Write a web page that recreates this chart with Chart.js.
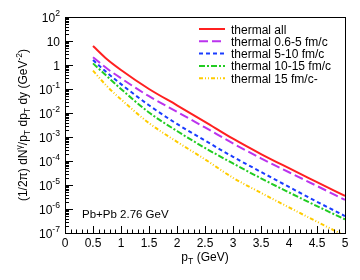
<!DOCTYPE html>
<html>
<head>
<meta charset="utf-8">
<script src="https://cdn.jsdelivr.net/npm/chart.js@4.4.1/dist/chart.umd.min.js"></script>
<style>
  html, body { margin: 0; padding: 0; background: #fff; }
  #wrap { width: 360px; height: 280px; }
</style>
</head>
<body>
<div id="wrap"><canvas id="c" width="360" height="280"></canvas></div>
<script>
// pT points (GeV)
const pt = [0.5, 0.75, 1.0, 1.5, 2.0, 2.5, 3.0, 3.5, 4.0, 4.5, 5.0];

// spectra (GeV^-2)
const thermalAll = [6.2, 1.74, 0.62, 0.10, 0.021, 4.3e-3, 8.5e-4, 1.95e-4, 5.0e-5, 1.32e-5, 3.5e-6];
const thermal06to5 = [2.1, 0.71, 0.28, 0.050, 0.0112, 2.5e-3, 5.4e-4, 1.29e-4, 3.4e-5, 9.1e-6, 2.4e-6];
const thermal5to10 = [1.62, 0.48, 0.16, 0.021, 3.5e-3, 7.1e-4, 1.5e-4, 3.5e-5, 8.3e-6, 2.0e-6, 5.1e-7];
const thermal10to15 = [1.17, 0.34, 0.10, 0.0105, 1.78e-3, 3.5e-4, 7.9e-5, 1.9e-5, 4.9e-6, 1.32e-6, 3.7e-7];
const thermal15up = [0.58, 0.13, 0.037, 3.8e-3, 6.3e-4, 1.17e-4, 2.0e-5, 4.7e-6, 1.17e-6, 2.95e-7, 7.6e-8];

const seriesLabels = ['thermal all', 'thermal 0.6-5 fm/c', 'thermal 5-10 fm/c', 'thermal 10-15 fm/c', 'thermal 15 fm/c-'];

// tick labels
const xTicks = [0, 0.5, 1, 1.5, 2, 2.5, 3, 3.5, 4, 4.5, 5];
const xTickLabels = ['0', '0.5', '1', '1.5', '2', '2.5', '3', '3.5', '4', '4.5', '5'];
const yDecades = [-7, -6, -5, -4, -3, -2, -1, 0, 1, 2];

const FONT = '"Liberation Sans", Arial, Helvetica, sans-serif';

function pts(ys) {
    return pt.map((x, i) => ({ x: x, y: ys[i] }));
}

function makeSet(label, ys, color, dash) {
    return {
        label: label,
        data: pts(ys),
        borderColor: color,
        backgroundColor: color,
        borderWidth: 2,
        borderDash: dash,
        pointRadius: 0,
        fill: false,
        cubicInterpolationMode: 'monotone',
    };
}

// draw a run of text pieces; each piece: [text, shift] where shift 0 normal, 1 sup, -1 sub
function richWidth(ctx, parts, size) {
    let w = 0;
    parts.forEach(p => {
        ctx.font = (p[1] === 0 ? size : size * 0.72) + 'px ' + FONT;
        w += ctx.measureText(p[0]).width;
    });
    return w;
}
function drawRich(ctx, parts, x, y, size) {
    let cx = x;
    parts.forEach(p => {
        const s = p[1] === 0 ? size : size * 0.72;
        ctx.font = s + 'px ' + FONT;
        const dy = p[1] === 1 ? -size * 0.42 : (p[1] === -1 ? size * 0.28 : 0);
        ctx.fillText(p[0], cx, y + dy);
        cx += ctx.measureText(p[0]).width;
    });
}

const rootAxes = {
    id: 'rootAxes',
    afterDraw(chart) {
        const ctx = chart.ctx;
        const a = chart.chartArea;
        const xs = chart.scales.x;
        const ys = chart.scales.y;
        ctx.save();
        ctx.fillStyle = '#000';
        ctx.strokeStyle = '#000';
        ctx.lineWidth = 1;

        // frame
        ctx.strokeRect(Math.round(a.left) + 0.5, Math.round(a.top) + 0.5,
            Math.round(a.right - a.left), Math.round(a.bottom - a.top));

        // x ticks (inward)
        ctx.beginPath();
        for (let i = 0; i <= 50; i++) {
            const v = i / 10;
            const px = Math.round(xs.getPixelForValue(v)) + 0.5;
            const len = (i % 5 === 0) ? 7 : 3.5;
            ctx.moveTo(px, a.bottom);
            ctx.lineTo(px, a.bottom - len);
        }
        // y ticks (inward)
        yDecades.forEach(d => {
            const py = Math.round(ys.getPixelForValue(Math.pow(10, d))) + 0.5;
            ctx.moveTo(a.left, py);
            ctx.lineTo(a.left + 8, py);
            if (d < 2) {
                for (let k = 2; k <= 9; k++) {
                    const q = Math.round(ys.getPixelForValue(k * Math.pow(10, d))) + 0.5;
                    ctx.moveTo(a.left, q);
                    ctx.lineTo(a.left + 4, q);
                }
            }
        });
        ctx.stroke();

        // x tick labels
        ctx.font = '12px ' + FONT;
        ctx.textAlign = 'center';
        ctx.textBaseline = 'alphabetic';
        xTicks.forEach((v, i) => {
            ctx.fillText(xTickLabels[i], xs.getPixelForValue(v), a.bottom + 14);
        });

        // y tick labels, 10^n
        ctx.textAlign = 'left';
        yDecades.forEach(d => {
            const py = ys.getPixelForValue(Math.pow(10, d)) + 4.5;
            let parts;
            if (d === 0) parts = [['1', 0]];
            else if (d === 1) parts = [['10', 0]];
            else parts = [['10', 0], [String(d), 1]];
            const w = richWidth(ctx, parts, 12);
            drawRich(ctx, parts, a.left - 5 - w, py, 12);
        });

        // x title
        const xt = [['p', 0], ['T', -1], [' (GeV)', 0]];
        const xw = richWidth(ctx, xt, 12);
        drawRich(ctx, xt, (a.left + a.right) / 2 - xw / 2, a.bottom + 28, 12);

        // y title (rotated)
        const yt = [['(1/2\u03c0) dN', 0], ['\u03b3', 1], ['/p', 0], ['T', -1], [' dp', 0], ['T', -1],
            [' dy (GeV', 0], ['-2', 1], [')', 0]];
        const yw = richWidth(ctx, yt, 12);
        ctx.save();
        ctx.translate(27, (a.top + a.bottom) / 2);
        ctx.rotate(-Math.PI / 2);
        drawRich(ctx, yt, -yw / 2, 0, 12);
        ctx.restore();

        // system label
        ctx.font = '11.5px ' + FONT;
        ctx.fillText('Pb+Pb 2.76 GeV', 82, 218);

        // legend
        const lx0 = 199, lx1 = 225, ly0 = 29, step = 12.3;
        chart.data.datasets.forEach((ds, i) => {
            const y = ly0 + i * step;
            ctx.save();
            ctx.strokeStyle = ds.borderColor;
            ctx.lineWidth = 2;
            ctx.setLineDash(ds.borderDash || []);
            ctx.beginPath();
            ctx.moveTo(lx0, y);
            ctx.lineTo(lx1, y);
            ctx.stroke();
            ctx.restore();
            ctx.font = '12px ' + FONT;
            ctx.fillText(ds.label, 231, y + 4.5);
        });
        ctx.restore();
    }
};

new Chart(document.getElementById('c').getContext('2d'), {
    type: 'line',
    data: {
        datasets: [
            makeSet(seriesLabels[0], thermalAll, '#ff2020', []),
            makeSet(seriesLabels[1], thermal06to5, '#bb33ee', [9, 4]),
            makeSet(seriesLabels[2], thermal5to10, '#1a3cff', [4, 3]),
            makeSet(seriesLabels[3], thermal10to15, '#22cc22', [6, 2, 2, 2]),
            makeSet(seriesLabels[4], thermal15up, '#ffcc00', [4, 2, 1, 2, 1, 2]),
        ],
    },
    options: {
        responsive: false,
        animation: false,
        devicePixelRatio: 1,
        layout: { padding: { left: 65, right: 15, top: 17, bottom: 47 } },
        plugins: {
            legend: { display: false },
            tooltip: { enabled: false },
        },
        scales: {
            x: { type: 'linear', min: 0, max: 5, display: false },
            y: { type: 'logarithmic', min: 1e-7, max: 1e2, display: false },
        },
    },
    plugins: [rootAxes],
});
</script>
</body>
</html>
